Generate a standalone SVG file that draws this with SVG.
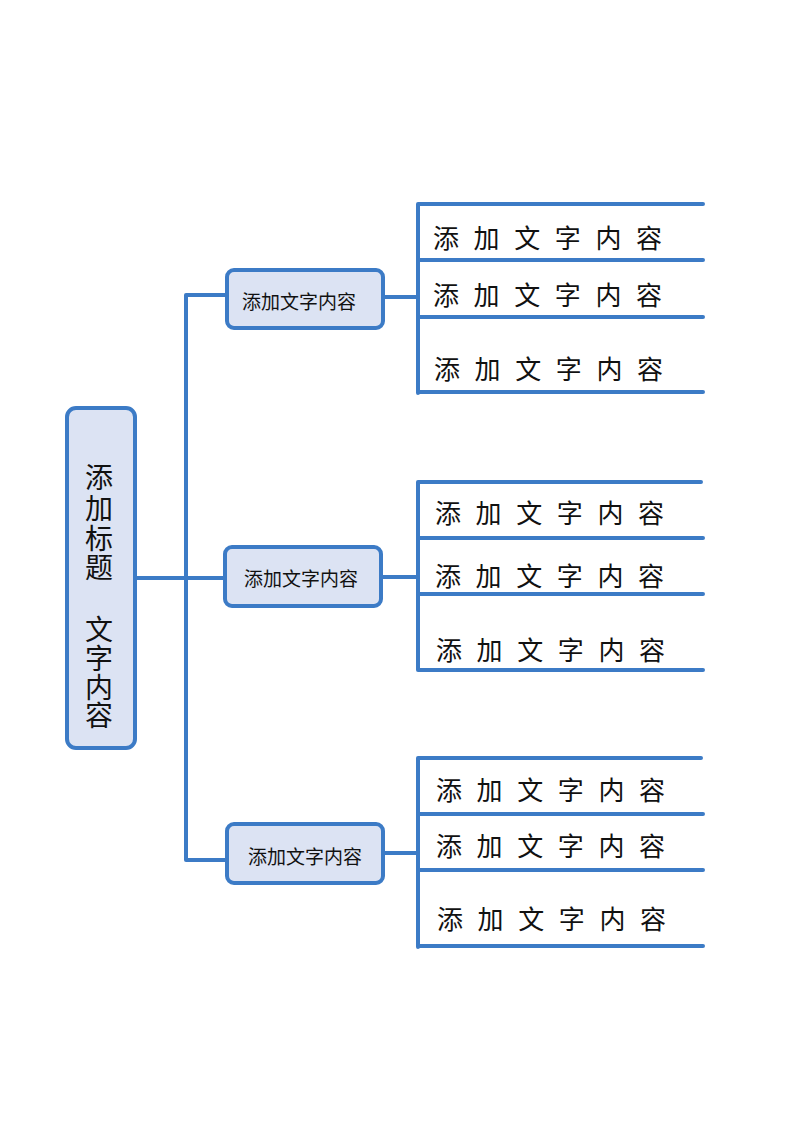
<svg xmlns="http://www.w3.org/2000/svg" width="800" height="1131" viewBox="0 0 800 1131">
<style>
.box{fill:#dce3f3;stroke:#3c7bc6;stroke-width:4}
.ln{stroke:#3c7bc6;stroke-width:4;fill:none;stroke-linecap:round;stroke-linejoin:round}
.t{font-family:"Liberation Serif","Noto Sans CJK SC",serif;fill:#111}
.big{font-size:26px}
.mid{font-size:19px;text-anchor:middle;dominant-baseline:central}
.ttl{font-size:28px;text-anchor:middle;dominant-baseline:central}
</style>
<rect width="800" height="1131" fill="#fff"/>
<g id="connectors">
<path class="ln" d="M135 578H186M186 295V860M186 295H228M186 578H226M186 860H228"/>
<path class="ln" d="M383 297H418M418 204V393M418 204H703M418 260H703M418 317H703M418 392H703"/>
<path class="ln" d="M381 577H418M418 482V670M418 482H701M418 538H703M418 594H703M418 670H703"/>
<path class="ln" d="M383 853H418M418 758V947M418 758H701M418 814H703M418 870H703M418 946H703"/>
</g>
<g id="title">
<rect class="box" x="67" y="408" width="68" height="340" rx="9"/>
<text class="t ttl"><tspan x="99" y="478">添</tspan><tspan x="99" y="509">加</tspan><tspan x="99" y="539">标</tspan><tspan x="99" y="568">题</tspan><tspan x="99" y="630">文</tspan><tspan x="99" y="659">字</tspan><tspan x="99" y="688">内</tspan><tspan x="99" y="716">容</tspan></text>
</g>
<g id="branch1">
<rect class="box" x="227" y="270" width="156" height="58" rx="7"/>
<text class="t mid" x="299" y="302">添加文字内容</text>
</g>
<g id="branch2">
<rect class="box" x="225" y="547" width="156" height="59" rx="7"/>
<text class="t mid" x="301" y="579">添加文字内容</text>
</g>
<g id="branch3">
<rect class="box" x="227" y="824" width="156" height="59" rx="7"/>
<text class="t mid" x="305" y="857">添加文字内容</text>
</g>
<g id="leaves1">
<text class="t big" x="433" y="248" textLength="229" lengthAdjust="spacing">添 加 文 字 内 容</text>
<text class="t big" x="433" y="305" textLength="229" lengthAdjust="spacing">添 加 文 字 内 容</text>
<text class="t big" x="434" y="379" textLength="229" lengthAdjust="spacing">添 加 文 字 内 容</text>
</g>
<g id="leaves2">
<text class="t big" x="435" y="523" textLength="229" lengthAdjust="spacing">添 加 文 字 内 容</text>
<text class="t big" x="435" y="586" textLength="229" lengthAdjust="spacing">添 加 文 字 内 容</text>
<text class="t big" x="436" y="660" textLength="229" lengthAdjust="spacing">添 加 文 字 内 容</text>
</g>
<g id="leaves3">
<text class="t big" x="436" y="800" textLength="229" lengthAdjust="spacing">添 加 文 字 内 容</text>
<text class="t big" x="436" y="856" textLength="229" lengthAdjust="spacing">添 加 文 字 内 容</text>
<text class="t big" x="437" y="929" textLength="229" lengthAdjust="spacing">添 加 文 字 内 容</text>
</g>
</svg>
